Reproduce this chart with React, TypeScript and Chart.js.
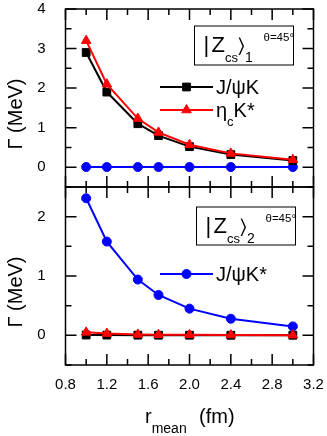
import React, { useEffect, useRef } from 'react';
import { Chart, registerables } from 'chart.js';

Chart.register(...registerables);

// ---------------- data ----------------
const rMean = [1.0, 1.2, 1.5, 1.7, 2.0, 2.4, 3.0];

// upper panel |Zcs>_1
const top_JpsiK = [2.9, 1.9, 1.1, 0.8, 0.52, 0.32, 0.17];
const top_etacKstar = [3.2, 2.1, 1.23, 0.88, 0.57, 0.35, 0.19];
const top_JpsiKstar = [0.005, 0.005, 0.005, 0.005, 0.005, 0.005, 0.005];

// lower panel |Zcs>_2
const bot_JpsiKstar = [2.31, 1.58, 0.94, 0.68, 0.45, 0.28, 0.15];
const bot_JpsiK = [0.005, 0.004, 0.003, 0.002, 0.002, 0.001, 0.001];
const bot_etacKstar = [0.05, 0.03, 0.015, 0.01, 0.008, 0.005, 0.003];

const xRange = [0.8, 3.2];
const topRange = [-0.5, 4];
const botRange = [-0.5, 2.5];

const FONT = '"Liberation Sans", Arial, Helvetica, sans-serif';
const BLACK = '#000000';
const RED = '#ff0000';
const BLUE = '#0000ff';

const pts = (ys: number[]) => rMean.map((x, i) => ({ x, y: ys[i] }));

type Seg = { t: string; size: number; dy?: number; x?: number };

function drawRich(ctx: CanvasRenderingContext2D, segs: Seg[], x: number, y: number) {
  let cx = x;
  for (const s of segs) {
    if (s.x !== undefined) cx = s.x;
    ctx.font = `${s.size}px ${FONT}`;
    ctx.fillText(s.t, cx, y + (s.dy || 0));
    cx += ctx.measureText(s.t).width;
  }
}

function drawMarker(ctx: CanvasRenderingContext2D, style: string, x: number, y: number, r: number, color: string) {
  ctx.save();
  ctx.fillStyle = color;
  ctx.strokeStyle = color;
  ctx.lineWidth = 1;
  ctx.beginPath();
  if (style === 'rect') {
    const s = r * Math.SQRT1_2;
    ctx.rect(x - s, y - s, 2 * s, 2 * s);
  } else if (style === 'triangle') {
    let a = 0;
    ctx.moveTo(x + Math.sin(a) * r, y - Math.cos(a) * r);
    a += (2 * Math.PI) / 3;
    ctx.lineTo(x + Math.sin(a) * r, y - Math.cos(a) * r);
    a += (2 * Math.PI) / 3;
    ctx.lineTo(x + Math.sin(a) * r, y - Math.cos(a) * r);
    ctx.closePath();
  } else {
    ctx.arc(x, y, r, 0, Math.PI * 2);
  }
  ctx.fill();
  ctx.stroke();
  ctx.restore();
}

const framePlugin = {
  id: 'frame',
  beforeDatasetsDraw(chart: any) {
    const ctx: CanvasRenderingContext2D = chart.ctx;
    const xs = chart.scales.x;
    ctx.save();
    ctx.strokeStyle = '#000';
    ctx.lineWidth = 1.5;
    for (const id of ['yt', 'yb']) {
      const ys = chart.scales[id];
      ctx.strokeRect(xs.left, ys.top, xs.right - xs.left, ys.bottom - ys.top);
      ctx.beginPath();
      for (const t of ys.ticks) {
        const py = ys.getPixelForValue(t.value);
        const major = Math.abs(t.value - Math.round(t.value)) < 1e-6;
        const L = major ? 11 : 6;
        ctx.moveTo(xs.left, py);
        ctx.lineTo(xs.left + L, py);
        ctx.moveTo(xs.right, py);
        ctx.lineTo(xs.right - L, py);
      }
      for (const t of xs.ticks) {
        const px = xs.getPixelForValue(t.value);
        const major = Math.round(t.value * 10) % 4 === 0;
        const L = major ? 11 : 6;
        ctx.moveTo(px, ys.top);
        ctx.lineTo(px, ys.top + L);
        ctx.moveTo(px, ys.bottom);
        ctx.lineTo(px, ys.bottom - L);
      }
      ctx.stroke();
    }
    ctx.restore();
  },
  afterDatasetsDraw(chart: any) {
    const ctx: CanvasRenderingContext2D = chart.ctx;
    const yt = chart.scales.yt;
    const yb = chart.scales.yb;
    const ds = chart.data.datasets;
    ctx.save();
    ctx.fillStyle = '#000';
    ctx.textBaseline = 'alphabetic';
    ctx.textAlign = 'left';

    // legend boxes
    ctx.strokeStyle = '#000';
    ctx.lineWidth = 1;
    const boxes = [
      { x: 194.5, y: yt.top + 17, w: 99, h: 39, sub: '1' },
      { x: 196.5, y: yb.top + 20, w: 99, h: 38, sub: '2' },
    ];
    for (const b of boxes) {
      ctx.fillStyle = '#fff';
      ctx.fillRect(b.x, b.y, b.w, b.h);
      ctx.strokeRect(b.x, b.y, b.w, b.h);
      ctx.fillStyle = '#000';
      const base = b.y + 26;
      drawRich(ctx, [
        { t: '|', size: 22, x: b.x + 9 },
        { t: 'Z', size: 22, x: b.x + 17 },
        { t: 'cs', size: 13, dy: 10 },
        { t: '\u232A', size: 20, dy: 0 },
        { t: b.sub, size: 14, dy: 10 },
      ], b.x, base);
      drawRich(ctx, [{ t: '\u03B8=45\u00B0', size: 11.5 }], b.x + 69, b.y + 15);
    }

    // legend entries
    const entries = [
      { i: 1, y: yt.top + 78, label: [{ t: 'J/\u03C8K', size: 20 }] as Seg[] },
      { i: 0, y: yt.top + 101, label: [{ t: '\u03B7', size: 20 }, { t: 'c', size: 13, dy: 9 }, { t: 'K*', size: 20 }] as Seg[] },
      { i: 3, y: yb.top + 87, label: [{ t: 'J/\u03C8K*', size: 20 }] as Seg[] },
    ];
    for (const e of entries) {
      const d = ds[e.i];
      ctx.strokeStyle = d.borderColor;
      ctx.lineWidth = d.borderWidth;
      ctx.beginPath();
      ctx.moveTo(160, e.y);
      ctx.lineTo(213, e.y);
      ctx.stroke();
      drawMarker(ctx, d.pointStyle, 186.5, e.y, d.pointRadius, d.borderColor);
      ctx.fillStyle = '#000';
      drawRich(ctx, e.label, 216, e.y + 7);
    }
    ctx.restore();
  },
  afterDraw(chart: any) {
    const ctx: CanvasRenderingContext2D = chart.ctx;
    const yt = chart.scales.yt;
    const yb = chart.scales.yb;
    ctx.save();
    ctx.fillStyle = '#000';
    ctx.font = `20px ${FONT}`;
    ctx.textAlign = 'center';
    ctx.textBaseline = 'middle';
    for (const ys of [yt, yb]) {
      ctx.save();
      ctx.translate(16, (ys.top + ys.bottom) / 2 + 16);
      ctx.rotate(-Math.PI / 2);
      ctx.fillText('\u0393 (MeV)', 0, 0);
      ctx.restore();
    }
    ctx.textAlign = 'left';
    ctx.textBaseline = 'alphabetic';
    drawRich(ctx, [
      { t: 'r', size: 20, x: 145 },
      { t: 'mean', size: 14, dy: 10 },
      { t: '(fm)', size: 20, x: 199 },
    ], 145, 423);
    ctx.restore();
  },
};

function lineDs(label: string, data: number[], color: string, style: string, r: number, axis: string, order: number) {
  return {
    label,
    data: pts(data),
    yAxisID: axis,
    borderColor: color,
    backgroundColor: color,
    borderWidth: 2,
    pointStyle: style,
    pointRadius: r,
    pointBorderWidth: 1,
    pointBackgroundColor: color,
    pointBorderColor: color,
    tension: 0,
    clip: false as any,
    order,
  };
}

const yFit = (s: any) => {
  s.width = 65.5;
  s.paddingTop = 0;
  s.paddingBottom = 0;
};

export default function App() {
  const ref = useRef<HTMLCanvasElement>(null);
  useEffect(() => {
    const tickFont = { family: FONT, size: 15, lineHeight: 1 };
    const intLabel = (v: any) => (Math.abs(v - Math.round(v)) < 1e-6 ? String(Math.round(v)) : '');
    const chart = new Chart(ref.current!, {
      type: 'line',
      data: {
        datasets: [
          lineDs('\u03B7cK*', top_etacKstar, RED, 'triangle', 5.5, 'yt', 0),
          lineDs('J/\u03C8K', top_JpsiK, BLACK, 'rect', 5.5, 'yt', 1),
          lineDs('J/\u03C8K*', top_JpsiKstar, BLUE, 'circle', 4.5, 'yt', 2),
          lineDs('J/\u03C8K*', bot_JpsiKstar, BLUE, 'circle', 4.5, 'yb', 2),
          lineDs('\u03B7cK*', bot_etacKstar, RED, 'triangle', 5.5, 'yb', 0),
          lineDs('J/\u03C8K', bot_JpsiK, BLACK, 'rect', 5.5, 'yb', 1),
        ] as any,
      },
      options: {
        responsive: false,
        animation: false,
        devicePixelRatio: 1,
        layout: { padding: { left: 0, right: 13.5, top: 9, bottom: 0 } },
        plugins: { legend: { display: false }, tooltip: { enabled: false } },
        scales: {
          x: {
            type: 'linear',
            position: 'bottom',
            min: xRange[0],
            max: xRange[1],
            grid: { display: false },
            border: { display: false },
            ticks: {
              stepSize: 0.2,
              autoSkip: false,
              maxRotation: 0,
              padding: 4,
              color: '#000',
              font: tickFont,
              callback: (v: any) => {
                const k = Math.round(Number(v) * 10);
                return k % 4 === 0 ? (k / 10).toFixed(1) : '';
              },
            },
            afterFit: (s: any) => {
              s.height = 71;
              s.paddingLeft = 0;
              s.paddingRight = 0;
            },
          },
          yb: {
            type: 'linear',
            position: 'left',
            stack: 'panels',
            stackWeight: 1,
            min: botRange[0],
            max: botRange[1],
            grid: { display: false },
            border: { display: false },
            ticks: { stepSize: 0.5, autoSkip: false, padding: 12, color: '#000', font: tickFont, callback: intLabel },
            afterFit: yFit,
          },
          yt: {
            type: 'linear',
            position: 'left',
            stack: 'panels',
            stackWeight: 1,
            min: topRange[0],
            max: topRange[1],
            grid: { display: false },
            border: { display: false },
            ticks: { stepSize: 0.5, autoSkip: false, padding: 12, color: '#000', font: tickFont, callback: intLabel },
            afterFit: yFit,
          },
        },
      } as any,
      plugins: [framePlugin],
    });
    return () => chart.destroy();
  }, []);
  return (
    <div style={{ position: 'absolute', left: 0, top: 0, width: 327, height: 436, background: '#fff' }}>
      <canvas ref={ref} width={327} height={436} style={{ display: 'block', width: 327, height: 436 }} />
    </div>
  );
}
